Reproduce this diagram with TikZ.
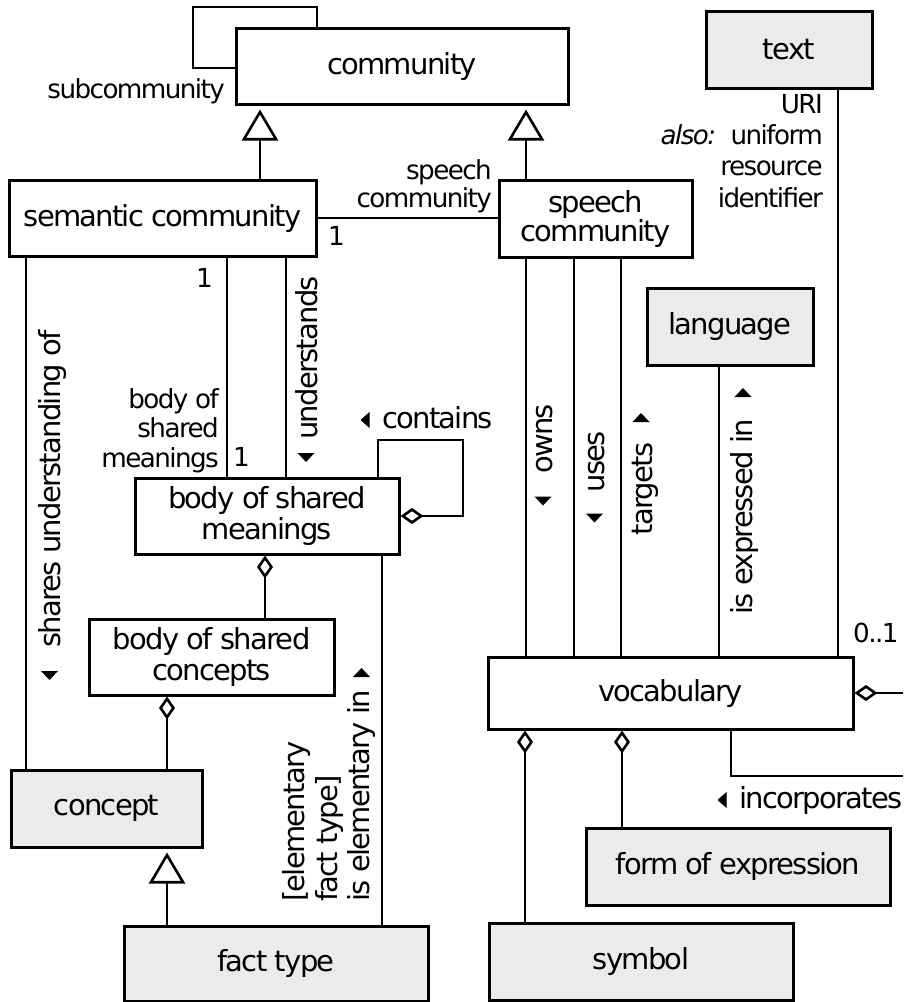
\documentclass[tikz,border=0pt]{standalone}
\usepackage{fontspec}
\setmainfont{DejaVu Sans}[LetterSpace=-6]
\usetikzlibrary{arrows.meta}
\definecolor{boxgray}{RGB}{235,235,235}
\tikzset{
  cls/.style={draw, line width=3pt, inner sep=0pt, align=center, font=\fontsize{29}{31}\selectfont},
  clsg/.style={cls, fill=boxgray},
  conn/.style={line width=2.6pt},
  role/.style={inner sep=0pt, font=\fontsize{26.2}{28}\selectfont},
  assoc/.style={inner sep=0pt, font=\fontsize{29}{31}\selectfont},
  aggs/.style={conn, arrows={Diamond[open,length=23pt,width=16pt]-}},
  agge/.style={conn, arrows={-Diamond[open,length=23pt,width=16pt]}},
  gen/.style={conn, shorten >=4pt, arrows={-Triangle[open,length=31pt,width=36pt]}},
  tdown/.pic={\fill (-8.5,-4.5) -- (8.5,-4.5) -- (0,4.5) -- cycle;},
  tup/.pic={\fill (-8.5,4.5) -- (8.5,4.5) -- (0,-4.5) -- cycle;},
  tleft/.pic={\fill (4.5,-8) -- (4.5,8) -- (-4.5,0) -- cycle;},
}
\begin{document}
\begin{tikzpicture}[x=1pt,y=-1pt]
\fill[white] (0,0) rectangle (903,1002);
\useasboundingbox (0,0) rectangle (903,1002);

% classes
\node[cls, minimum width=332, minimum height=76] (com) at (402,66) {community};
\node[cls, minimum width=307, minimum height=76] (sem) at (162.5,218) {semantic community};
\node[cls, minimum width=193, minimum height=77, font=\fontsize{29}{29}\selectfont] (spc) at (595.5,218.5) {speech\\community};
\node[clsg, minimum width=166, minimum height=77] (txt) at (789,49.5) {text};
\node[clsg, minimum width=166, minimum height=77] (lang) at (730,326.5) {language};
\node[cls, minimum width=264, minimum height=76] (bsm) at (267,516) {body of shared\\meanings};
\node[cls, minimum width=365, minimum height=72] (voc) at (670.5,693) {vocabulary};
\node[cls, minimum width=245, minimum height=76] (bsc) at (211.5,657) {body of shared\\concepts};
\node[clsg, minimum width=191, minimum height=77] (cpt) at (106.5,808.5) {concept};
\node[clsg, minimum width=304, minimum height=75] (ft) at (276,963.5) {fact type};
\node[clsg, minimum width=304, minimum height=77] (sym) at (641,961.5) {symbol};
\node[clsg, minimum width=304, minimum height=77] (foe) at (738,866.5) {form of expression};

% helper coordinates
\coordinate (s1) at (317,7);
\coordinate (s2) at (193,7);
\coordinate (s3) at (193,68);
\coordinate (xg1) at (260,0);
\coordinate (xg2) at (526,0);
\coordinate (xsu) at (26,0);
\coordinate (xbm) at (227,0);
\coordinate (xun) at (286,0);
\coordinate (c1) at (378,440);
\coordinate (c2) at (463,440);
\coordinate (c3) at (463,516);
\coordinate (xei) at (382,0);
\coordinate (xbc) at (265,0);
\coordinate (xcc) at (167,0);
\coordinate (xus) at (574,0);
\coordinate (xta) at (621,0);
\coordinate (xla) at (719,0);
\coordinate (xtx) at (838,0);
\coordinate (xsy) at (525,0);
\coordinate (xfo) at (622,0);
\coordinate (xin) at (731,776);
\coordinate (rin) at (903,776);
\coordinate (rv) at (903,693);

% connectors
\draw[conn] (com.north -| s1) -- (s1) -- (s2) -- (s3) -- (com.west |- s3);
\draw[gen] (sem.north -| xg1) -- (com.south -| xg1);
\draw[gen] (spc.north -| xg2) -- (com.south -| xg2);
\draw[conn] (sem.east) -- (sem.east -| spc.west);
\draw[conn] (sem.south -| xsu) -- (cpt.north -| xsu);
\draw[conn] (sem.south -| xbm) -- (bsm.north -| xbm);
\draw[conn] (sem.south -| xun) -- (bsm.north -| xun);
\draw[agge] (bsm.north -| c1) -- (c1) -- (c2) -- (c3) -- (bsm.east |- c3);
\draw[conn] (bsm.south -| xei) -- (ft.north -| xei);
\draw[aggs] (bsm.south -| xbc) -- (bsc.north -| xbc);
\draw[aggs] (bsc.south -| xcc) -- (cpt.north -| xcc);
\draw[gen] (ft.north -| xcc) -- (cpt.south -| xcc);
\draw[conn] (spc.south -| xg2) -- (voc.north -| xg2);
\draw[conn] (spc.south -| xus) -- (voc.north -| xus);
\draw[conn] (spc.south -| xta) -- (voc.north -| xta);
\draw[conn] (lang.south -| xla) -- (voc.north -| xla);
\draw[conn] (txt.south -| xtx) -- (voc.north -| xtx);
\draw[aggs] (voc.east) -- (rv);
\draw[conn] (voc.south -| xin) -- (xin) -- (rin);
\draw[aggs] (voc.south -| xsy) -- (sym.north -| xsy);
\draw[aggs] (voc.south -| xfo) -- (foe.north -| xfo);

% role names and multiplicities
\node[role, anchor=base east] (lsub) at (225,98) {subcommunity};
\node[role, anchor=base east, align=right, font=\fontsize{26.2}{27.5}\selectfont] (lspc) at (492,207) {speech\\community};
\node[role, anchor=base west] (m1) at (328,245) {1};
\node[role, anchor=base east] (m2) at (213,287) {1};
\node[role, anchor=base east, align=right, font=\fontsize{26.2}{29.5}\selectfont] (lbsm) at (219,467) {body of\\shared\\meanings};
\node[role, anchor=base west] (m3) at (233,466) {1};
\node[role, anchor=base east, align=right, font=\fontsize{26.2}{31.3}\selectfont] (luri) at (823,207) {URI\\\textit{also:}\hspace{16pt}uniform\\resource\\identifier};
\node[role, anchor=base west] (m4) at (853,642) {0..1};

% association names
\node[assoc, anchor=base west] (lcon) at (382,428) {contains};
\node[assoc, anchor=base west] (linc) at (739,808) {incorporates};
\node[assoc, rotate=90, anchor=base] (lund) at (317,358) {understands};
\node[assoc, rotate=90, anchor=base] (lsha) at (60,489) {shares understanding of};
\node[assoc, rotate=90, anchor=base] (lown) at (552,439) {owns};
\node[assoc, rotate=90, anchor=base] (luse) at (604,462) {uses};
\node[assoc, rotate=90, anchor=base] (ltar) at (652,489) {targets};
\node[assoc, rotate=90, anchor=base] (lexp) at (752,517) {is expressed in};
\node[assoc, rotate=90, anchor=south west, align=left, font=\fontsize{29}{32.5}\selectfont] (lele) at (376,902) {[elementary\\fact type]\\is elementary in};

% reading direction marks
\pic at (306,457.5) {tdown};
\pic at (49.5,675.5) {tdown};
\pic at (543,501) {tdown};
\pic at (594.5,518) {tdown};
\pic at (641,417.5) {tup};
\pic at (743,392.5) {tup};
\pic at (361.5,672.5) {tup};
\pic at (365,420) {tleft};
\pic at (722,800) {tleft};
\end{tikzpicture}
\end{document}
